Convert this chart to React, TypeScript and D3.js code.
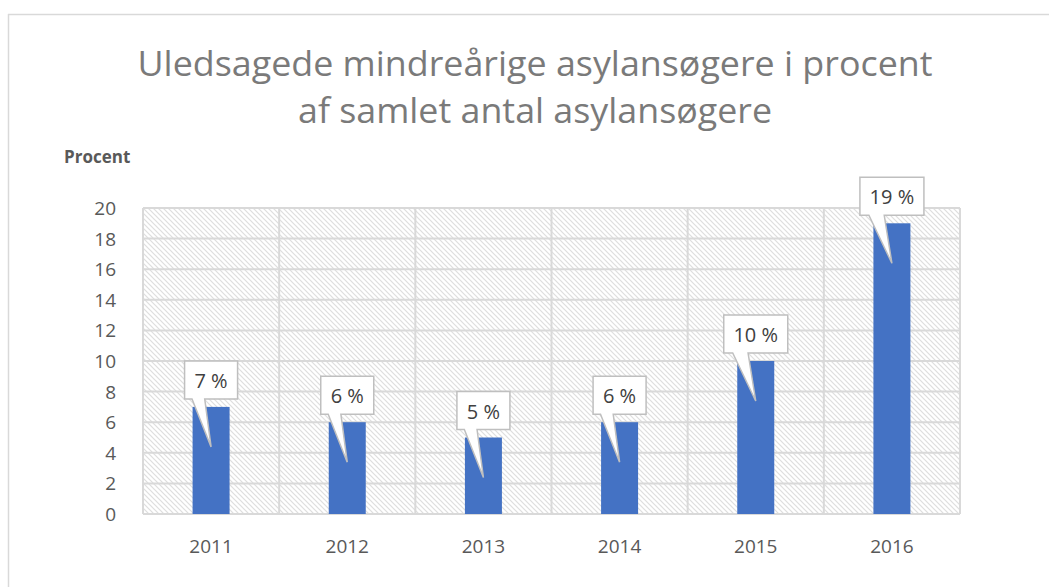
import React from "react";
import * as d3 from "d3";

const categories = ["2011", "2012", "2013", "2014", "2015", "2016"];
const values = [7, 6, 5, 6, 10, 19];
const labels = ["7 %", "6 %", "5 %", "6 %", "10 %", "19 %"];
const yTicks = [0, 2, 4, 6, 8, 10, 12, 14, 16, 18, 20];
const titleLines = ["Uledsagede mindreårige asylansøgere i procent", "af samlet antal asylansøgere"];
const yAxisTitle = "Procent";

const W = 1049;
const H = 587;
const plot = { left: 143, right: 960, top: 208, bottom: 514 };
const FONT = "'Open Sans', 'Noto Sans', sans-serif";

export default function App() {
  const x = d3.scaleBand<string>().domain(categories).range([plot.left, plot.right]).paddingInner(0).paddingOuter(0);
  const y = d3.scaleLinear().domain([0, 20]).range([plot.bottom, plot.top]);
  const barW = 37;

  return (
    <svg width={W} height={H} style={{ position: "absolute", left: 0, top: 0, background: "#fff" }} fontFamily={FONT}>
      <defs>
        <pattern id="hatch" patternUnits="userSpaceOnUse" width="5" height="5">
          <rect width="5" height="5" fill="#fff" />
          <path d="M-1,-1 L6,6 M-1,4 L1,6 M4,-1 L6,1" stroke="#dedede" strokeWidth="1.2" />
        </pattern>
      </defs>
      {/* outer frame */}
      <line x1={8.5} y1={14} x2={8.5} y2={H} stroke="#d9d9d9" strokeWidth={1.5} />
      <line x1={8} y1={14.5} x2={W} y2={14.5} stroke="#d9d9d9" strokeWidth={1.5} />

      {/* title */}
      {titleLines.map((t, i) => (
        <text key={i} x={535} y={76 + i * 47} textAnchor="middle" fontSize={34} fill="#7a7a7a"
          textLength={i === 0 ? 795 : 474} lengthAdjust="spacingAndGlyphs">{t}</text>
      ))}
      <text x={64} y={163} fontSize={17} fontWeight="bold" fill="#595959">{yAxisTitle}</text>

      {/* plot background */}
      <rect x={plot.left} y={plot.top} width={plot.right - plot.left} height={plot.bottom - plot.top} fill="url(#hatch)" />
      {/* gridlines */}
      {yTicks.map((t) => (
        <line key={t} x1={plot.left} x2={plot.right} y1={y(t)} y2={y(t)} stroke="#d9d9d9" strokeWidth={2} />
      ))}
      {categories.concat(["end"]).map((c, i) => {
        const xx = i < categories.length ? (x(c) as number) : plot.right;
        return <line key={c} x1={xx} x2={xx} y1={plot.top} y2={plot.bottom} stroke="#d9d9d9" strokeWidth={2} />;
      })}

      {/* y tick labels */}
      {yTicks.map((t) => (
        <text key={t} x={116} y={y(t) + 7} textAnchor="end" fontSize={19} fill="#595959">{t}</text>
      ))}
      {/* x labels */}
      {categories.map((c) => (
        <text key={c} x={(x(c) as number) + x.bandwidth() / 2} y={553} textAnchor="middle" fontSize={19} fill="#595959">{c}</text>
      ))}

      {/* bars */}
      {categories.map((c, i) => {
        const cx = (x(c) as number) + x.bandwidth() / 2;
        return <rect key={c} x={cx - barW / 2} y={y(values[i])} width={barW} height={plot.bottom - y(values[i])} fill="#4472C4" />;
      })}

      {/* callout labels */}
      {categories.map((c, i) => {
        const cx = (x(c) as number) + x.bandwidth() / 2;
        const top = y(values[i]);
        const bw = labels[i].length > 3 ? 64 : 53;
        const bh = 38;
        const bx = cx - bw / 2;
        const by = top - 8 - bh;
        const tipX = cx;
        const tipY = top + 40;
        const b1 = bx + bw * 0.14;
        const b2 = bx + bw * 0.38;
        const path = `M${bx},${by} L${bx + bw},${by} L${bx + bw},${by + bh} L${b2},${by + bh} L${tipX},${tipY} L${b1},${by + bh} L${bx},${by + bh} Z`;
        return (
          <g key={c}>
            <path d={path} fill="#fff" stroke="#bfbfbf" strokeWidth={1.5} strokeLinejoin="miter" />
            <text x={cx} y={by + 27} textAnchor="middle" fontSize={20} fill="#404040">{labels[i]}</text>
          </g>
        );
      })}
    </svg>
  );
}
